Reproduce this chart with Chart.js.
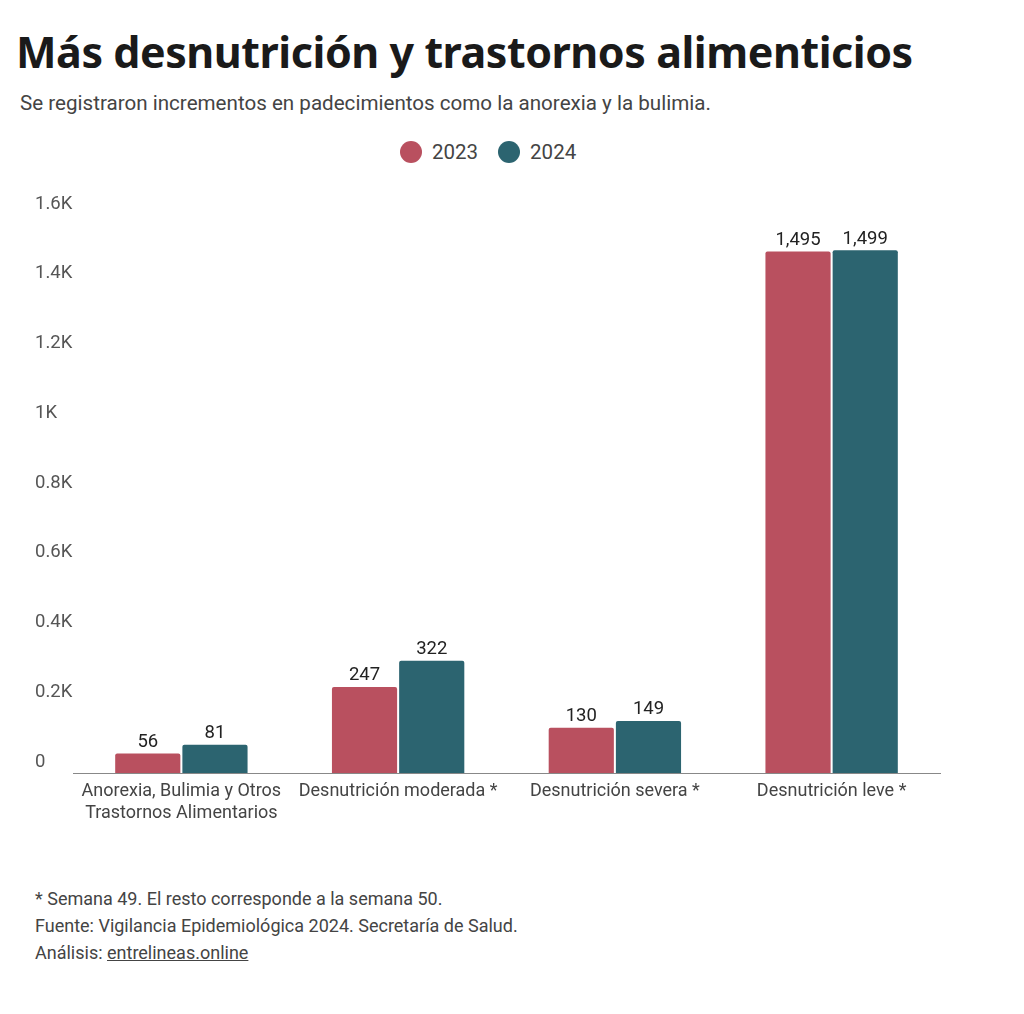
<!DOCTYPE html>
<html>
<head>
<meta charset="utf-8">
<script src="https://cdn.jsdelivr.net/npm/chart.js@4/dist/chart.umd.min.js"></script>
<style>
  html, body { margin: 0; padding: 0; background: #fff; }
  body { width: 1024px; height: 1014px; position: relative; overflow: hidden; font-family: Roboto, sans-serif; }
  #title { position: absolute; left: 16px; top: 22px; font-family: "Noto Sans", Roboto, sans-serif; font-weight: 700; font-size: 43px; color: #1a1a1a; white-space: nowrap; letter-spacing: -0.45px; }
  #subtitle { position: absolute; left: 20px; top: 91px; font-size: 20.6px; color: #444; white-space: nowrap; }
  #legend { position: absolute; top: 140px; left: 400px; display: flex; gap: 20px; font-size: 20.5px; color: #444; }
  #legend .item { display: flex; align-items: center; gap: 10px; }
  #legend .dot { width: 22px; height: 22px; border-radius: 50%; display: inline-block; }
  #wrap { position: absolute; left: 0; top: 180px; width: 1024px; height: 651px; }
  #footer { position: absolute; left: 35px; top: 885px; font-size: 18px; color: #444; line-height: 27px; }
  #footer u { text-decoration: underline; }
</style>
</head>
<body>
<div id="title">Más desnutrición y trastornos alimenticios</div>
<div id="subtitle">Se registraron incrementos en padecimientos como la anorexia y la bulimia.</div>
<div id="legend"></div>
<div id="wrap"><canvas id="c"></canvas></div>
<div id="footer">
  <div>* Semana 49. El resto corresponde a la semana 50.</div>
  <div>Fuente: Vigilancia Epidemiológica 2024. Secretaría de Salud.</div>
  <div>Análisis: <u>entrelineas.online</u></div>
</div>
<script>
const categories = [
  ["Anorexia, Bulimia y Otros", "Trastornos Alimentarios"],
  "Desnutrición moderada *",
  "Desnutrición severa *",
  "Desnutrición leve *"
];
const seriesNames = ["2023", "2024"];
const values2023 = [56, 247, 130, 1495];
const values2024 = [81, 322, 149, 1499];
const seriesColors = ["#b9505f", "#2c6470"];
const yTicks = [0, 200, 400, 600, 800, 1000, 1200, 1400, 1600];
const yTickLabels = ["0", "0.2K", "0.4K", "0.6K", "0.8K", "1K", "1.2K", "1.4K", "1.6K"];

// HTML legend
const leg = document.getElementById('legend');
seriesNames.forEach((n, i) => {
  const it = document.createElement('div'); it.className = 'item';
  const d = document.createElement('span'); d.className = 'dot'; d.style.background = seriesColors[i];
  const t = document.createElement('span'); t.textContent = n;
  it.appendChild(d); it.appendChild(t); leg.appendChild(it);
});

const labelsPlugin = {
  id: 'customLabels',
  afterDraw(chart) {
    const ctx = chart.ctx;
    const y = chart.scales.y;
    ctx.save();
    // y tick labels
    ctx.font = '18.5px Roboto';
    ctx.fillStyle = '#555';
    ctx.textAlign = 'left';
    ctx.textBaseline = 'middle';
    yTicks.forEach((v, i) => {
      ctx.fillText(yTickLabels[i], 35, y.getPixelForValue(v) - 11);
    });
    // value labels
    ctx.font = '18.5px Roboto';
    ctx.fillStyle = '#222';
    ctx.textAlign = 'center';
    ctx.textBaseline = 'bottom';
    chart.data.datasets.forEach((ds, di) => {
      const meta = chart.getDatasetMeta(di);
      meta.data.forEach((bar, i) => {
        ctx.fillText(ds.data[i].toLocaleString('en-US'), bar.x, bar.y - 2);
      });
    });
    ctx.restore();
  }
};

new Chart(document.getElementById('c'), {
  type: 'bar',
  data: {
    labels: categories,
    datasets: [
      { label: seriesNames[0], data: values2023, backgroundColor: seriesColors[0], borderRadius: 2, borderSkipped: 'bottom' },
      { label: seriesNames[1], data: values2024, backgroundColor: seriesColors[1], borderRadius: 2, borderSkipped: 'bottom' }
    ]
  },
  options: {
    responsive: true,
    maintainAspectRatio: false,
    animation: false,
    categoryPercentage: 0.62,
    barPercentage: 0.97,
    layout: { padding: { left: 73, right: 84, top: 35, bottom: 0 } },
    plugins: { legend: { display: false }, tooltip: { enabled: false } },
    scales: {
      x: {
        grid: { display: false, drawTicks: false },
        border: { display: true, color: '#888', width: 1 },
        ticks: { color: '#444', font: { family: 'Roboto', size: 18, lineHeight: 1.22 }, padding: 7, maxRotation: 0, autoSkip: false }
      },
      y: {
        min: 0, max: 1600,
        display: true,
        grid: { display: false, drawTicks: false },
        border: { display: false },
        ticks: { display: false, stepSize: 200 }
      }
    }
  },
  plugins: [labelsPlugin]
});
</script>
</body>
</html>
